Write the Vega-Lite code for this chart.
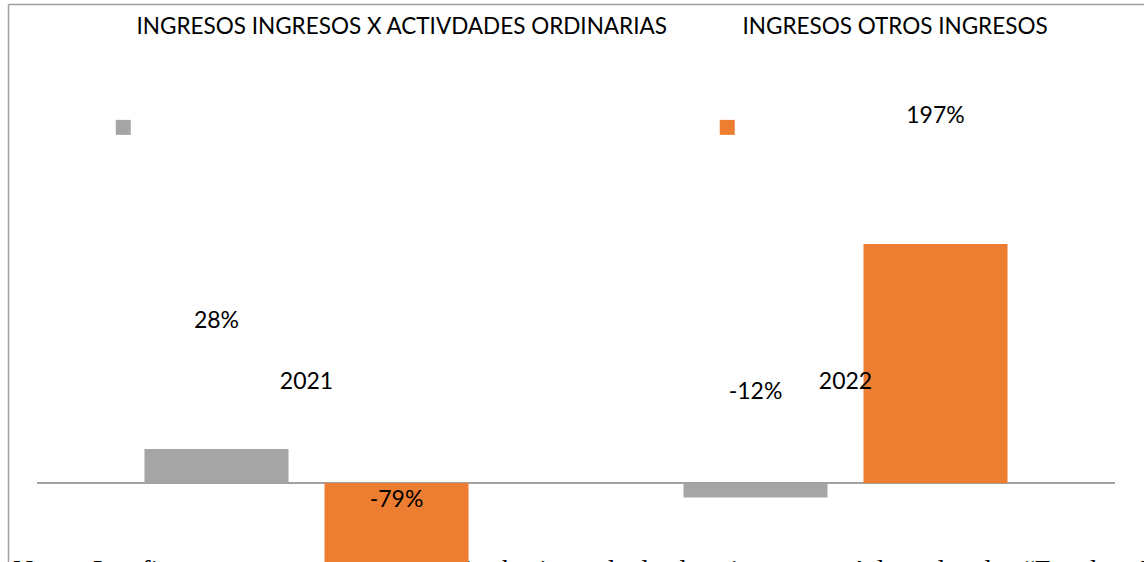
{
  "$schema": "https://vega.github.io/schema/vega-lite/v6.json",
  "width": 1136,
  "height": 558,
  "autosize": {"type": "none"},
  "padding": {"left": 8, "top": 4, "right": 0, "bottom": 0},
  "background": "#ffffff",
  "config": {
    "view": {"stroke": null},
    "font": "Lato",
    "locale": {"number": {"decimal": ".", "thousands": ",", "grouping": [3], "currency": ["$", ""], "minus": "-"}}
  },
  "data": {
    "values": [
      {"year": "2021", "serie": "INGRESOS INGRESOS X ACTIVDADES ORDINARIAS", "value": 0.28},
      {"year": "2021", "serie": "INGRESOS OTROS INGRESOS", "value": -0.79},
      {"year": "2022", "serie": "INGRESOS INGRESOS X ACTIVDADES ORDINARIAS", "value": -0.12},
      {"year": "2022", "serie": "INGRESOS OTROS INGRESOS", "value": 1.97}
    ]
  },
  "layer": [
    {
      "data": {"values": [{"nota": "Nota.\u2002\u2006La\u2002\u2006figura\u2002\u2006representa\u2002\u2006el\u2002\u2006análisis\u2002\u2006horizontal\u2002\u2006de\u2002\u2006los\u2002\u2006ingresos.\u2002\u2006Adaptado\u2002\u2006de\u2002\u2006“Estados\u2002\u2006Financieros”"}]},
      "mark": {"type": "text", "font": "Liberation Serif", "fontSize": 28, "align": "left", "baseline": "alphabetic", "dx": -24, "color": "#000000"},
      "encoding": {
        "x": {"datum": "2021", "bandPosition": 0},
        "y": {"datum": -0.795, "scale": {"domain": [-0.651, 3.948], "nice": false, "zero": false}},
        "text": {"field": "nota"}
      }
    },
    {
      "mark": {"type": "rule", "color": "#a0a0a0", "strokeWidth": 1.5},
      "encoding": {
        "x": {"datum": "2021", "bandPosition": 0},
        "x2": {"datum": "2022", "bandPosition": 1},
        "y": {"datum": 0}
      }
    },
    {
      "mark": {"type": "bar"},
      "encoding": {
        "x": {
          "field": "year", "type": "nominal",
          "scale": {"paddingInner": 0, "paddingOuter": 0.0538},
          "axis": {"orient": "bottom", "offset": -181, "zindex": 1, "domain": false, "ticks": false, "tickSize": 0, "labelPadding": 0, "labelBaseline": "middle", "labelAlign": "center", "labelAngle": 0, "labelFont": "Lato", "labelFontSize": 23, "labelColor": "#000000", "title": null}
        },
        "xOffset": {
          "field": "serie", "type": "nominal",
          "scale": {"domain": ["INGRESOS INGRESOS X ACTIVDADES ORDINARIAS", "INGRESOS OTROS INGRESOS"], "paddingInner": 0.2, "paddingOuter": 0.597}
        },
        "y": {
          "field": "value", "type": "quantitative",
          "scale": {"domain": [-0.651, 3.948], "nice": false, "zero": false},
          "axis": {"domain": true, "domainColor": "#a0a0a0", "domainWidth": 1.5, "labels": false, "ticks": false, "grid": true, "values": [3.948], "gridColor": "#a0a0a0", "gridWidth": 1.5, "title": null}
        },
        "color": {
          "field": "serie", "type": "nominal",
          "scale": {"domain": ["INGRESOS INGRESOS X ACTIVDADES ORDINARIAS", "INGRESOS OTROS INGRESOS"], "range": ["#A5A5A5", "#ED7D31"]},
          "legend": {
            "orient": "none", "legendX": 104, "legendY": 112, "direction": "horizontal",
            "symbolType": "square", "symbolSize": 225, "symbolStrokeWidth": 0, "labelOffset": 0,
            "columnPadding": 581, "padding": 0, "title": null,
            "labelExpr": "''", "labelFontSize": 22.5, "labelLimit": 1000
          }
        },
        "opacity": {
          "field": "serie", "type": "nominal",
          "scale": {"range": [1, 1]},
          "legend": {
            "orient": "none", "legendX": 104, "legendY": 12, "direction": "horizontal",
            "symbolType": "square", "symbolSize": 225, "symbolStrokeWidth": 0, "symbolOpacity": 0,
            "symbolFillColor": "transparent", "symbolStrokeColor": "transparent", "labelOffset": 2,
            "columnPadding": 50, "padding": 0, "title": null,
            "labelFont": "Lato", "labelFontSize": 22.5, "labelColor": "#000000", "labelLimit": 1000
          }
        }
      }
    },
    {
      "transform": [{"filter": "datum.value > 0"}],
      "mark": {"type": "text", "font": "Lato", "fontSize": 23, "color": "#000000", "baseline": "middle", "dy": -128},
      "encoding": {
        "x": {"field": "year", "type": "nominal"},
        "xOffset": {"field": "serie", "type": "nominal"},
        "y": {"field": "value", "type": "quantitative"},
        "text": {"field": "value", "type": "quantitative", "format": ".0%"}
      }
    },
    {
      "transform": [{"filter": "datum.value < 0 && datum.value > -0.5"}],
      "mark": {"type": "text", "font": "Lato", "fontSize": 23, "color": "#000000", "baseline": "middle", "dy": -106},
      "encoding": {
        "x": {"field": "year", "type": "nominal"},
        "xOffset": {"field": "serie", "type": "nominal"},
        "y": {"field": "value", "type": "quantitative"},
        "text": {"field": "value", "type": "quantitative", "format": ".0%"}
      }
    },
    {
      "transform": [{"filter": "datum.value < -0.5"}],
      "mark": {"type": "text", "font": "Lato", "fontSize": 23, "color": "#000000", "baseline": "middle", "dy": -79},
      "encoding": {
        "x": {"field": "year", "type": "nominal"},
        "xOffset": {"field": "serie", "type": "nominal"},
        "y": {"field": "value", "type": "quantitative"},
        "text": {"field": "value", "type": "quantitative", "format": ".0%"}
      }
    }
  ]
}
